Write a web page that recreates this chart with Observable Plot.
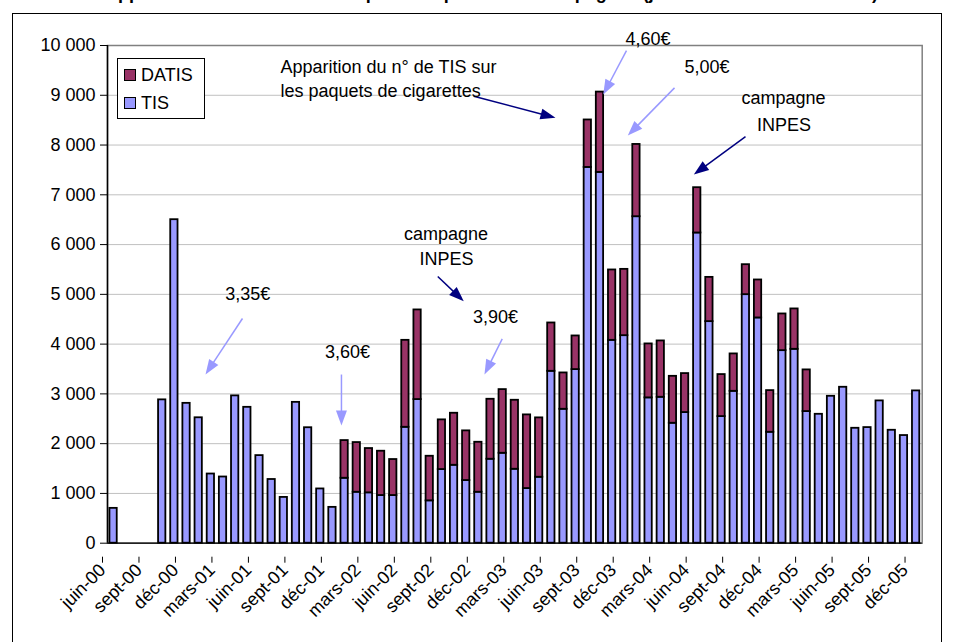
<!DOCTYPE html>
<html>
<head>
<meta charset="utf-8">
<script src="https://cdn.jsdelivr.net/npm/d3@7"></script>
<script src="https://cdn.jsdelivr.net/npm/@observablehq/plot@0.6"></script>
<style>
  html, body { margin: 0; padding: 0; background: white; overflow: hidden; }
  #wrap { position: relative; width: 957px; height: 642px; font-family: "Liberation Sans", Arial, sans-serif; }
  #frame { position: absolute; left: 12px; top: 13px; width: 928px; height: 700px; border: 1.5px solid black; pointer-events: none; }
  #title { position: absolute; left: 105px; top: -16px; font-weight: bold; font-size: 18px; line-height: 18px; white-space: nowrap; }
  #legend { position: absolute; left: 117px; top: 58px; width: 86px; height: 59px; border: 1px solid black; background: white; font-size: 18px; }
  .item { position: absolute; left: 6px; height: 20px; line-height: 20px; }
  .sw { position: absolute; left: 0; top: 4px; width: 10px; height: 10px; border: 1.5px solid black; }
  .lab { position: absolute; left: 17px; top: 0; }
</style>
</head>
<body>
<div id="wrap">
  <div id="chart"></div>
  <div id="title">Appels au TIS et au DATIS : impact des prix et des campagnes (juin 2000 - décembre 2005)</div>
  <div id="frame"></div>
  <div id="legend">
    <div class="item" style="top:6px"><div class="sw" style="background:#993366"></div><div class="lab">DATIS</div></div>
    <div class="item" style="top:34px"><div class="sw" style="background:#9999FF"></div><div class="lab">TIS</div></div>
  </div>
</div>
<script>
// ---- categories ----
const monthNames = ["janv","févr","mars","avr","mai","juin","juil","août","sept","oct","nov","déc"];
const years = ["00","01","02","03","04","05"];
const months = [];
years.forEach((yy, k) => monthNames.forEach((m, j) => { if (k > 0 || j >= 5) months.push(m + "-" + yy); }));

const tickLabels = ["juin-00","sept-00","déc-00","mars-01","juin-01","sept-01","déc-01","mars-02","juin-02","sept-02","déc-02","mars-03","juin-03","sept-03","déc-03","mars-04","juin-04","sept-04","déc-04","mars-05","juin-05","sept-05","déc-05"];

// ---- series (calls per month) ----
const tis = [700,0,0,0,2880,6500,2810,2520,1390,1330,2960,2730,1760,1280,920,2830,2320,1090,720,
  1305,1024,1012,958,958,2329,2886,851,1480,1566,1259,1024,1687,1807,1486,1098,1325,
  3454,2691,3488,7550,7450,4076,4170,6560,2920,2932,2410,2625,6233,4452,2544,3052,4994,4526,2229,3869,3896,2645,
  2590,2952,3133,2309,2323,2859,2269,2163,3060];
const datis = [0,0,0,0,0,0,0,0,0,0,0,0,0,0,0,0,0,0,0,
  757,998,890,890,723,1747,1801,896,998,1045,998,1004,1205,1279,1386,1480,1193,
  971,730,676,954,1614,1414,1332,1452,1084,1132,943,783,910,889,844,751,602,763,837,737,811,837,
  0,0,0,0,0,0,0,0,0];

const yTicks = [0,1000,2000,3000,4000,5000,6000,7000,8000,9000,10000];

// ---- annotations (month index, value) ----
const leftNotes = [
  {x: 14.23, y: 9569, text: "Apparition du n° de TIS sur"},
  {x: 14.23, y: 9085, text: "les paquets de cigarettes"}
];
const notes = [
  {x: 44.45, y: 10123, text: "4,60€"},
  {x: 49.30, y: 9569, text: "5,00€"},
  {x: 55.60, y: 8938, text: "campagne"},
  {x: 55.63, y: 8404, text: "INPES"},
  {x: 11.54, y: 5000, text: "3,35€"},
  {x: 19.74, y: 3829, text: "3,60€"},
  {x: 27.84, y: 6212, text: "campagne"},
  {x: 27.88, y: 5704, text: "INPES"},
  {x: 31.91, y: 4546, text: "3,90€"}
];
const arrows = [
  {x1: 30.12, y1: 8980, x2: 36.84, y2: 8546, color: "#000080"},
  {x1: 42.68, y1: 9898, x2: 40.77, y2: 9014, color: "#9999FF"},
  {x1: 46.63, y1: 9149, x2: 42.79, y2: 8191, color: "#9999FF"},
  {x1: 52.47, y1: 8171, x2: 48.22, y2: 7407, color: "#000080"},
  {x1: 11.10, y1: 4514, x2: 8.06, y2: 3389, color: "#9999FF"},
  {x1: 19.24, y1: 3389, x2: 19.24, y2: 2365, color: "#9999FF"},
  {x1: 27.16, y1: 5358, x2: 29.30, y2: 4862, color: "#000080"},
  {x1: 32.46, y1: 4106, x2: 31.00, y2: 3389, color: "#9999FF"}
];

// ---- build ----
const rows = tis.map((v, i) => ({i, month: months[i], tis: v, datis: datis[i]}));
const xDomain = [0, 67], xRange = [107, 921.7];
const yDomain = [0, 10000], yRange = [542.7, 45];
const xs = d3.scaleLinear(xDomain, xRange), ys = d3.scaleLinear(yDomain, yRange);
// narrow filled arrowhead: apex 10px ahead of origin, base 5px behind, 11px wide
const TIP = 10;
const headSymbol = {draw(ctx) { ctx.moveTo(0, -TIP); ctx.lineTo(5.5, 5); ctx.lineTo(-5.5, 5); ctx.closePath(); }};
const heads = arrows.map(a => {
  const p1 = [xs(a.x1), ys(a.y1)], p2 = [xs(a.x2), ys(a.y2)];
  const dx = p2[0] - p1[0], dy = p2[1] - p1[1], L = Math.hypot(dx, dy);
  const ux = dx / L, uy = dy / L;
  const cx = p2[0] - ux * TIP, cy = p2[1] - uy * TIP;
  return {x0: a.x1, y0: a.y1, x: xs.invert(cx), y: ys.invert(cy), rotate: Math.atan2(ux, -uy) * 180 / Math.PI, color: a.color};
});

const fmt = d => d3.format(",")(d).replace(/,/g, " ");

const chart = Plot.plot({
  width: 957,
  height: 642,
  marginLeft: xRange[0],
  marginRight: 957 - xRange[1],
  marginTop: yRange[1],
  marginBottom: 642 - yRange[0],
  x: {domain: xDomain, axis: null},
  y: {domain: yDomain, axis: null},
  style: {fontFamily: "Liberation Sans, Arial, sans-serif", fontSize: "18px", background: "transparent", overflow: "visible"},
  marks: [
    Plot.gridY(yTicks, {stroke: "#c0c0c0", strokeOpacity: 1}),
    Plot.frame({stroke: "#808080", strokeWidth: 1.5}),
    Plot.rectY(rows.filter(d => d.tis > 0), {x1: d => d.i + 0.2, x2: d => d.i + 0.8, y1: 0, y2: "tis", fill: "#9999FF", stroke: "black", strokeWidth: 1.8}),
    Plot.rectY(rows.filter(d => d.datis > 0), {x1: d => d.i + 0.2, x2: d => d.i + 0.8, y1: "tis", y2: d => d.tis + d.datis, fill: "#993366", stroke: "black", strokeWidth: 1.8}),
    Plot.ruleX([0], {stroke: "black", strokeWidth: 1.5}),
    Plot.ruleY([0], {stroke: "black", strokeWidth: 1.2}),
    Plot.axisY(yTicks, {tickSize: 7, tickPadding: 5, tickFormat: fmt, fontSize: 18, stroke: "black", label: null}),
    Plot.axisX(tickLabels.map((_, k) => 3 * k), {tickSize: 6, tickRotate: -45, tickPadding: 4, tickFormat: i => tickLabels[i / 3], fontSize: 18, stroke: "black", label: null, dx: -5, dy: 14}),
    Plot.link(heads, {x1: "x0", y1: "y0", x2: "x", y2: "y", stroke: "color", strokeWidth: 1.5}),
    Plot.dot(heads, {x: "x", y: "y", symbol: headSymbol, r: 5, rotate: "rotate", fill: "color", stroke: null}),
    Plot.text(leftNotes, {x: "x", y: "y", text: "text", textAnchor: "start", fontSize: 18, fill: "black"}),
    Plot.text(notes, {x: "x", y: "y", text: "text", textAnchor: "middle", fontSize: 18, fill: "black"})
  ]
});
document.getElementById("chart").appendChild(chart);
</script>
</body>
</html>
